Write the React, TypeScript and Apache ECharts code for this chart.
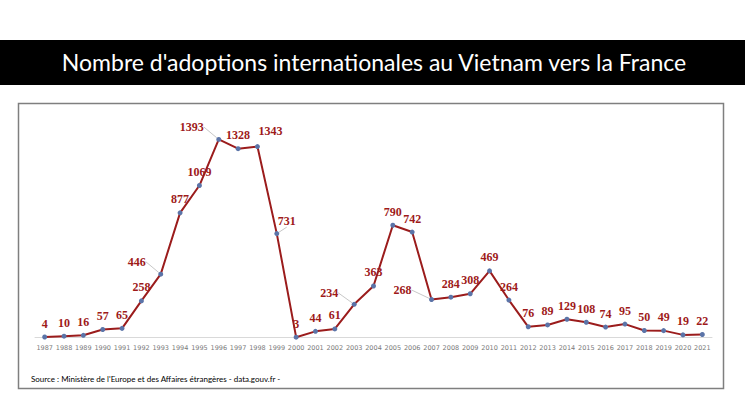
import React, { useEffect, useRef } from "react";
import * as echarts from "echarts";

const years = [
  "1987", "1988", "1989", "1990", "1991", "1992", "1993", "1994", "1995", "1996",
  "1997", "1998", "1999", "2000", "2001", "2002", "2003", "2004", "2005", "2006",
  "2007", "2008", "2009", "2010", "2011", "2012", "2013", "2014", "2015", "2016",
  "2017", "2018", "2019", "2020", "2021",
];
const adoptions = [
  4, 10, 16, 57, 65, 258, 446, 877, 1069, 1393,
  1328, 1343, 731, 3, 44, 61, 234, 363, 790, 742,
  268, 284, 308, 469, 264, 76, 89, 129, 108, 74,
  95, 50, 49, 19, 22,
];
const titleText = "Nombre d'adoptions internationales au Vietnam vers la France";
const sourceText = "Source : Ministère de l'Europe et des Affaires étrangères - data.gouv.fr -";

// label displacement (px) for labels with leader lines / moved labels
const labelShift: Record<string, [number, number, boolean]> = {
  "1993": [-24, 1, true],
  "1996": [-27, 1, true],
  "1998": [13, -2, false],
  "1999": [10, 1, true],
  "2003": [-25, 2, true],
  "2007": [-29, 4, true],
};

export default function App() {
  const ref = useRef<HTMLDivElement>(null);
  useEffect(() => {
    if (!ref.current) return;
    const chart = echarts.init(ref.current, undefined, { renderer: "svg" });
    const data = adoptions.map((v, i) => {
      const s = labelShift[years[i]];
      return s && s[2] ? { value: v, labelLine: { show: true } } : { value: v };
    });
    chart.setOption({
      animation: false,
      backgroundColor: "#ffffff",
      graphic: [
        { type: "rect", shape: { x: 0, y: 40, width: 745, height: 45 }, style: { fill: "#000000" }, silent: true },
        {
          type: "text", x: 374, y: 62,
          style: { text: titleText, fill: "#ffffff", font: '23px Lato, "Open Sans", sans-serif', textAlign: "center", textVerticalAlign: "middle" },
        },
        {
          type: "rect", shape: { x: 18.5, y: 103.5, width: 705, height: 285 },
          style: { fill: "none", stroke: "#7f7f7f", lineWidth: 1.5 }, silent: true, z: -1,
        },
        {
          type: "text", x: 31, y: 379,
          style: { text: sourceText, fill: "#000000", font: '8px Lato, "Open Sans", sans-serif', textAlign: "left", textVerticalAlign: "middle" },
        },
      ],
      grid: { left: 35, right: 33, top: 110, bottom: 81.4 },
      xAxis: {
        type: "category",
        data: years,
        boundaryGap: true,
        axisLine: { show: true, lineStyle: { color: "#d9d9d9", width: 1 } },
        axisTick: { show: false },
        axisLabel: { color: "#7a7a7a", fontSize: 6.5, fontFamily: "DejaVu Sans", margin: 7, interval: 0 },
      },
      yAxis: { type: "value", min: 0, max: 1600, show: false, splitLine: { show: false } },
      series: [
        {
          type: "line",
          data,
          symbol: "circle",
          symbolSize: 5,
          itemStyle: { color: "#5b74a8", borderWidth: 0 },
          lineStyle: { color: "#9b1c1c", width: 2 },
          label: {
            show: true,
            position: "top",
            distance: 5,
            color: "#9e1a1a",
            fontFamily: '"Liberation Serif", serif',
            fontWeight: "bold",
            fontSize: 12,
          },
          labelLine: { show: false, lineStyle: { color: "#c8c8c8", width: 1 } },
          labelLayout: (p: any) => {
            const s = labelShift[years[p.dataIndex]];
            return s ? { dx: s[0], dy: s[1] } : {};
          },
        },
      ],
    });
    return () => chart.dispose();
  }, []);
  return <div ref={ref} style={{ position: "fixed", left: 0, top: 0, width: 745, height: 419 }} />;
}
